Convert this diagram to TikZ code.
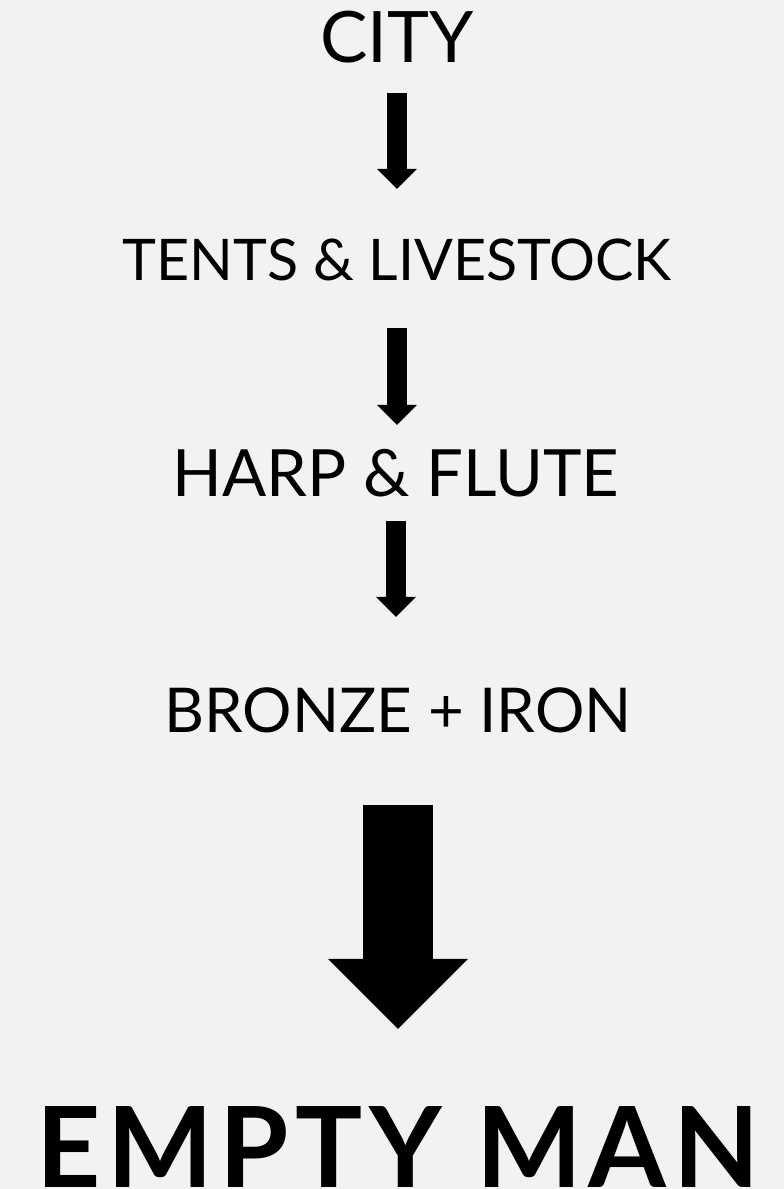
\documentclass[tikz,border=0pt]{standalone}
\usepackage{fontspec}
\setmainfont{Lato}
\usetikzlibrary{arrows.meta, positioning}
\definecolor{pagegray}{HTML}{F2F2F2}

\begin{document}
\begin{tikzpicture}[
  x=1pt, y=-1pt,
  stage/.style={inner sep=0pt, anchor=base, text depth=0pt, text height=#1},
  flow/.style={line width=20pt, -{Triangle[width=40pt, length=20pt, line width=0pt]}},
  bigflow/.style={line width=70pt, -{Triangle[width=140pt, length=70pt, line width=0pt]}}
]
  \fill[pagegray] (0,0) rectangle (784,1189);
  \useasboundingbox (0,0) rectangle (784,1189);

  \node[stage=51pt, font=\fontsize{71}{71}\selectfont] (city) at (397,62) {CITY};
  \node[stage=42pt, font=\fontsize{57.4}{60}\selectfont] (tents) at (397,280) {TENTS \& LIVESTOCK};
  \node[stage=48pt, font=\fontsize{65.2}{67}\selectfont] (harp) at (396,496) {HARP \& FLUTE};
  \node[stage=44pt, font=\fontsize{61.8}{62}\selectfont] (bronze) at (398,732) {BRONZE + IRON};
  \node[stage=80pt, font=\fontsize{112}{112}\selectfont\bfseries\addfontfeatures{LetterSpace=6}] (empty) at (398,1187) {EMPTY MAN};

  \draw[flow, shorten <=31pt, shorten >=49pt] (city.south) -- (tents.north);
  \draw[flow, shorten <=48pt, shorten >=23pt] (tents.south) -- (tents.south |- harp.north);
  \draw[flow, shorten <=25pt, shorten >=71pt] (harp.south) -- (harp.south |- bronze.north);
  \draw[bigflow, shorten <=73pt, shorten >=78pt] (bronze.south) -- (bronze.south |- empty.north);
\end{tikzpicture}
\end{document}
